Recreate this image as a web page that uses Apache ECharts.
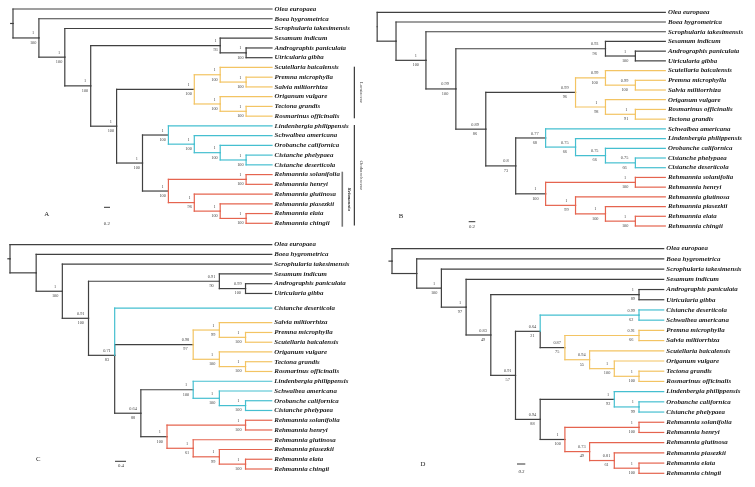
<!DOCTYPE html>
<html><head><meta charset="utf-8">
<script src="https://cdn.jsdelivr.net/npm/echarts@6/dist/echarts.min.js"></script>
<style>html,body{margin:0;padding:0;background:#fff}#c{width:755px;height:487px}</style>
</head><body><div id="c"></div>
<script>
// ---------------- DATA ----------------
// Leaf order (top to bottom) per panel
const leavesA = ['Olea europaea','Boea hygrometrica','Scrophularia takesimensis','Sesamum indicum','Andrographis paniculata','Utricularia gibba','Scutellaria baicalensis','Premna microphylla','Salvia miltiorrhiza','Origanum vulgare','Tectona grandis','Rosmarinus officinalis','Lindenbergia philippensis','Schwalbea americana','Orobanche californica','Cistanche phelypaea','Cistanche deserticola','Rehmannia solanifolia','Rehmannia henryi','Rehmannia glutinosa','Rehmannia piasezkii','Rehmannia elata','Rehmannia chingii'];
const leavesB = ['Olea europaea','Boea hygrometrica','Scrophularia takesimensis','Sesamum indicum','Andrographis paniculata','Utricularia gibba','Scutellaria baicalensis','Premna microphylla','Salvia miltiorrhiza','Origanum vulgare','Rosmarinus officinalis','Tectona grandis','Schwalbea americana','Lindenbergia philippensis','Orobanche californica','Cistanche phelypaea','Cistanche deserticola','Rehmannia solanifolia','Rehmannia henryi','Rehmannia glutinosa','Rehmannia piasezkii','Rehmannia elata','Rehmannia chingii'];
const leavesC = ['Olea europaea','Boea hygrometrica','Scrophularia takesimensis','Sesamum indicum','Andrographis paniculata','Utricularia gibba','Cistanche deserticola','Salvia miltiorrhiza','Premna microphylla','Scutellaria baicalensis','Origanum vulgare','Tectona grandis','Rosmarinus officinalis','Lindenbergia philippensis','Schwalbea americana','Orobanche californica','Cistanche phelypaea','Rehmannia solanifolia','Rehmannia henryi','Rehmannia glutinosa','Rehmannia piasezkii','Rehmannia elata','Rehmannia chingii'];
const leavesD = ['Olea europaea','Boea hygrometrica','Scrophularia takesimensis','Sesamum indicum','Andrographis paniculata','Utricularia gibba','Cistanche deserticola','Schwalbea americana','Premna microphylla','Salvia miltiorrhiza','Scutellaria baicalensis','Origanum vulgare','Tectona grandis','Rosmarinus officinalis','Lindenbergia philippensis','Orobanche californica','Cistanche phelypaea','Rehmannia solanifolia','Rehmannia henryi','Rehmannia glutinosa','Rehmannia piasezkii','Rehmannia elata','Rehmannia chingii'];

// Row position of each leaf
const rowsA = [0,1,2,3,4,5,6,7,8,9,10,11,12,13,14,15,16,17,18,19,20,21,22];
const rowsB = [0,1,2,3,4,5,6,7,8,9,10,11,12,13,14,15,16,17,18,19,20,21,22];
const rowsC = [0,1,2,3,4,5,6.5,8,9,10,11,12,13,14,15,16,17,18,19,20,21,22,23];
const rowsD = [0,1,2,3,4,5,6,7,8,9,10,11,12,13,14,15,16,17,18,19,20,21,22];

// Clade colour of each leaf branch (k backbone, y Lamiaceae, c Orobanchaceae, r Rehmannia)
const leafColA = 'kkkkkkyyyyyycccccrrrrrr';
const leafColB = 'kkkkkkyyyyyycccccrrrrrr';
const leafColC = 'kkkkkkcyyyyyyccccrrrrrr';
const leafColD = 'kkkkkkccyyyyyycccrrrrrr';

// Internal nodes (post-order): [children (leaf index or 'nK'), depth, posterior, bootstrap, stem colour]
const nodesA = [
  [[4,5],9,'1','100','k'], [[3,'n0'],8,'1','93','k'],
  [[7,8],9,'1','100','y'], [[6,'n2'],8,'1','100','y'], [[10,11],9,'1','100','y'], [[9,'n4'],8,'1','100','y'],
  [['n3','n5'],7,'1','100','k'],
  [[15,16],9,'1','100','c'], [[14,'n7'],8,'1','100','c'], [[13,'n8'],7,'1','100','c'], [[12,'n9'],6,'1','100','k'],
  [[17,18],9,'1','100','r'], [[21,22],9,'1','100','r'], [[20,'n12'],8,'1','100','r'], [[19,'n13'],7,'1','96','r'],
  [['n11','n14'],6,'1','100','k'], [['n10','n15'],5,'1','100','k'], [['n6','n16'],4,'1','100','k'],
  [['n1','n17'],3,'1','100','k'], [[2,'n18'],2,'1','100','k'], [[1,'n19'],1,'1','100','k'], [[0,'n20'],0,'','','k']
];
const nodesB = [
  [[4,5],9,'1','100','k'], [[3,'n0'],8,'0.93','96','k'],
  [[7,8],9,'0.99','100','y'], [[6,'n2'],8,'0.99','100','y'], [[10,11],9,'1','91','y'], [[9,'n4'],8,'1','98','y'],
  [['n3','n5'],7,'0.99','96','k'],
  [[15,16],9,'0.75','66','c'], [[14,'n7'],8,'0.75','66','c'], [[13,'n8'],7,'0.75','66','c'], [[12,'n9'],6,'0.77','68','k'],
  [[17,18],9,'1','100','r'], [[21,22],9,'1','100','r'], [[20,'n12'],8,'1','100','r'], [[19,'n13'],7,'1','99','r'],
  [['n11','n14'],6,'1','100','k'], [['n10','n15'],5,'0.8','73','k'], [['n6','n16'],4,'0.89','86','k'],
  [['n1','n17'],3,'0.99','100','k'], [[2,'n18'],2,'1','100','k'], [[1,'n19'],1,'','','k'], [[0,'n20'],0.37,'','','k']
];
const nodesC = [
  [[4,5],9,'0.99','100','k'], [[3,'n0'],8,'0.91','90','k'],
  [[8,9],9,'1','100','y'], [[7,'n2'],8,'1','99','y'], [[11,12],9,'1','100','y'], [[10,'n4'],8,'1','100','y'],
  [['n3','n5'],7,'0.98','97','k'],
  [[15,16],9,'1','100','c'], [[14,'n7'],8,'1','100','c'], [[13,'n8'],7,'1','100','k'],
  [[17,18],9,'1','100','r'], [[21,22],9,'1','100','r'], [[20,'n11'],8,'1','99','r'], [[19,'n12'],7,'1','61','r'],
  [['n10','n13'],6,'1','100','k'], [['n9','n14'],5,'0.64','88','k'], [[6,'n6','n15'],4,'0.71','83','k'],
  [['n1','n16'],3,'0.91','100','k'], [[2,'n17'],2,'1','100','k'], [[1,'n18'],1,'','','k'], [[0,'n19'],0,'','','k']
];
const nodesD = [
  [[4,5],10,'1','89','k'], [[6,7],10,'0.99','62','c'],
  [[8,9],10,'0.91','66','y'], [[12,13],10,'1','100','y'], [[11,'n3'],9,'1','100','y'], [[10,'n4'],8,'0.94','55','y'],
  [['n2','n5'],7,'0.87','75','k'], [['n1','n6'],6,'0.64','21','k'],
  [[15,16],10,'1','99','c'], [[14,'n8'],9,'1','92','k'],
  [[17,18],10,'1','100','r'], [[21,22],10,'1','100','r'], [[20,'n11'],9,'0.81','61','r'], [[19,'n12'],8,'0.73','49','r'],
  [['n10','n13'],7,'1','100','k'], [['n9','n14'],6,'0.94','88','k'], [['n7','n15'],5,'0.91','57','k'],
  [['n0','n16'],4,'0.83','49','k'], [[3,'n17'],3,'1','97','k'], [[2,'n18'],2,'1','100','k'], [[1,'n19'],1,'','','k'], [[0,'n20'],0,'','','k']
];
const leafDepth = [10, 10, 10, 11];
const panelLetters = ['A','B','C','D'];
const scaleLabels = ['0.2','0.2','0.4','0.3'];

// ---------------- LAYOUT ----------------
const COLORS = {k:'#404040', y:'#f3c463', c:'#45bfd0', r:'#e5644f'};
const SERIF = '"Liberation Serif","DejaVu Serif",serif';
const panels = [
  {leaves:leavesA, rows:rowsA, col:leafColA, nodes:nodesA, grid:{left:13, top:9, width:259, height:214.3}, yMax:22, gap:2.5, stub:0.09},
  {leaves:leavesB, rows:rowsB, col:leafColB, nodes:nodesB, grid:{left:366.1, top:12.3, width:299.2, height:213.7}, yMax:22, gap:7, stub:0},
  {leaves:leavesC, rows:rowsC, col:leafColC, nodes:nodesC, grid:{left:10, top:244.7, width:261.7, height:224.3}, yMax:23, gap:4, stub:0.08},
  {leaves:leavesD, rows:rowsD, col:leafColD, nodes:nodesD, grid:{left:392, top:248.7, width:271.7, height:224.6}, yMax:22, gap:4, stub:0.12}
];

function buildTree(p, ld) {
  const nodeRow = [], segs = [], labels = [];
  const pos = ref => {
    if (typeof ref === 'number') return {d: ld, r: p.rows[ref], c: p.col[ref]};
    const k = +ref.slice(1);
    return {d: p.nodes[k][1], r: nodeRow[k], c: p.nodes[k][4]};
  };
  p.nodes.forEach((n, i) => {
    const kids = n[0].map(pos);
    const r = kids.reduce((s, k) => s + k.r, 0) / kids.length;
    nodeRow[i] = r;
    kids.forEach(k => {
      segs.push([n[1], r, n[1], k.r, k.c]);
      segs.push([n[1], k.r, k.d, k.r, k.c]);
    });
    if (n[2] || n[3]) labels.push([n[1], r, n[2], n[3]]);
  });
  const root = p.nodes[p.nodes.length - 1];
  if (p.stub) segs.push([root[1] - p.stub, nodeRow[p.nodes.length - 1], root[1], nodeRow[p.nodes.length - 1], 'k']);
  const order = {k:0, y:1, c:2, r:3};
  segs.sort((a, b) => order[a[4]] - order[b[4]]);
  return {segs, labels};
}

const SUP_FS = 4.3;
function textW(s) { let w = 0; for (const ch of s) w += (ch === '.' ? 0.25 : 0.5) * SUP_FS; return w; }

const grids = [], xAxes = [], yAxes = [], series = [];
panels.forEach((p, gi) => {
  const ld = leafDepth[gi];
  const t = buildTree(p, ld);
  grids.push(Object.assign({containLabel:false, show:false}, p.grid));
  xAxes.push({type:'value', gridIndex:gi, min:0, max:ld, show:false});
  yAxes.push({type:'value', gridIndex:gi, min:0, max:p.yMax, inverse:true, show:false});
  series.push({
    type:'custom', xAxisIndex:gi, yAxisIndex:gi, silent:true, clip:false,
    encode:{x:[0,2], y:[1,3]},
    data: t.segs.map(s => [s[0], s[1], s[2], s[3]]),
    renderItem: (params, api) => {
      const s = t.segs[params.dataIndex];
      const a = api.coord([s[0], s[1]]), b = api.coord([s[2], s[3]]);
      return {type:'line', shape:{x1:a[0], y1:a[1], x2:b[0], y2:b[1]},
        style:{stroke:COLORS[s[4]], lineWidth:1.2, lineCap:'square'}};
    }
  });
  series.push({
    type:'custom', xAxisIndex:gi, yAxisIndex:gi, silent:true, clip:false,
    encode:{x:0, y:1},
    data: t.labels.map(l => [l[0], l[1]]),
    renderItem: (params, api) => {
      const l = t.labels[params.dataIndex];
      const c = api.coord([l[0], l[1]]);
      const w = Math.max(textW(l[2]), textW(l[3]));
      const cx = c[0] - p.gap - w / 2;
      const st = txt => ({text:txt, fill:'#444', fontSize:SUP_FS, fontFamily:SERIF, align:'center', verticalAlign:'middle'});
      return {type:'group', children:[
        {type:'text', x:cx, y:c[1] - 4.6, style:st(l[2])},
        {type:'text', x:cx, y:c[1] + 4.7, style:st(l[3])}
      ]};
    }
  });
  series.push({
    type:'custom', xAxisIndex:gi, yAxisIndex:gi, silent:true, clip:false,
    encode:{x:0, y:1},
    data: p.leaves.map((n, i) => [ld, p.rows[i]]),
    renderItem: (params, api) => {
      const c = api.coord([ld, p.rows[params.dataIndex]]);
      return {type:'text', x:c[0] + 2.6, y:c[1],
        style:{text:p.leaves[params.dataIndex], fill:'#1a1a1a', fontSize:6.9, fontStyle:'italic', fontWeight:'bold',
          fontFamily:SERIF, align:'left', verticalAlign:'middle'}};
    }
  });
});

// panel letters, scale bars, clade brackets (decoration)
const letterPos = [[46.7,214],[401,216],[38.3,459],[423,464.7]];
const barPos = [[104,110,207.3,106.8,223.3],[468.7,475.3,221.7,472,226.9],[115,126,461.3,121,466],[517,525.3,464,521.5,471.3]];
const graphic = [];
letterPos.forEach((q, i) => graphic.push({type:'text', x:q[0], y:q[1], silent:true,
  style:{text:panelLetters[i], fill:'#222', fontSize:6.8, fontFamily:SERIF, align:'center', verticalAlign:'middle'}}));
barPos.forEach((b, i) => {
  graphic.push({type:'line', silent:true, shape:{x1:b[0], y1:b[2], x2:b[1], y2:b[2]}, style:{stroke:'#333', lineWidth:1}});
  graphic.push({type:'text', x:b[3], y:b[4], silent:true,
    style:{text:scaleLabels[i], fill:'#333', fontSize:4.8, fontFamily:SERIF, fontStyle:(i===3?'italic':'normal'), align:'center', verticalAlign:'middle'}});
});
const brackets = [
  ['Lamiaceae', 354.3, 66.7, 118.3, 361.7, '#111', 1, 'normal'],
  ['Orobanchaceae', 354.3, 125, 225.5, 361.7, '#111', 1, 'normal'],
  ['Rehmannia', 342.3, 171.7, 226.7, 349, '#777', 1.6, 'italic']
];
brackets.forEach(b => {
  graphic.push({type:'line', silent:true, shape:{x1:b[1], y1:b[2], x2:b[1], y2:b[3]}, style:{stroke:b[5], lineWidth:b[6]}});
  graphic.push({type:'text', silent:true, x:b[4], y:(b[2]+b[3])/2, rotation:-Math.PI/2,
    style:{text:b[0], fill:'#333', fontSize:4.8, fontFamily:SERIF, fontStyle:b[7], fontWeight:(b[7]==='italic'?'bold':'normal'), align:'center', verticalAlign:'middle'}});
});

const chart = echarts.init(document.getElementById('c'), null, {renderer:'canvas'});
chart.setOption({animation:false, backgroundColor:'#fff', grid:grids, xAxis:xAxes, yAxis:yAxes, series, graphic});
</script></body></html>
